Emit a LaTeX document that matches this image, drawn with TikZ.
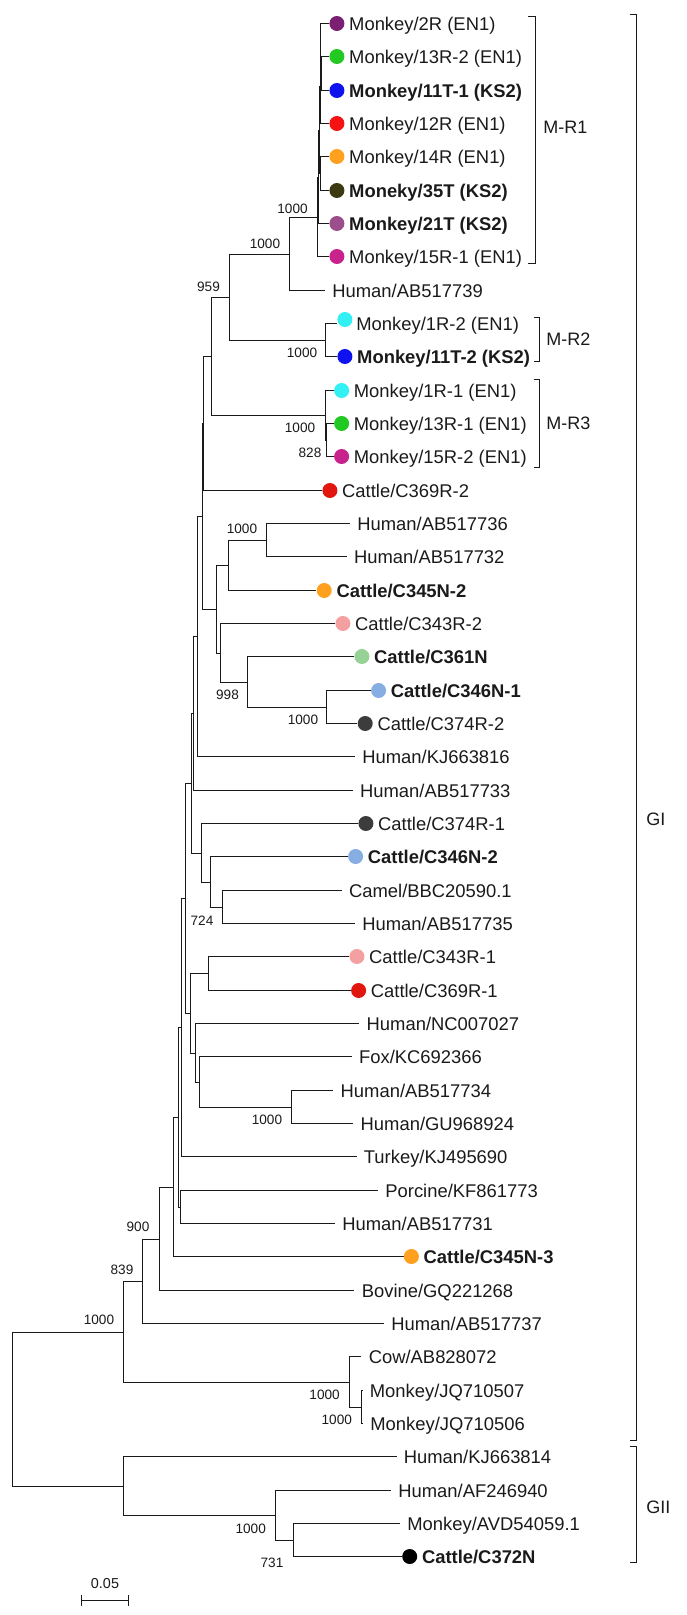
\documentclass[tikz,border=0pt]{standalone}
\usepackage{fontspec}
\setmainfont{Liberation Sans}
\usetikzlibrary{positioning,calc}
\definecolor{ink}{HTML}{1A1A1A}
\definecolor{dotplum}{HTML}{7B1F72}
\definecolor{dotgreen}{HTML}{22C922}
\definecolor{dotblue}{HTML}{0D12EE}
\definecolor{dotred}{HTML}{F51212}
\definecolor{dotorange}{HTML}{FFA01E}
\definecolor{dotolive}{HTML}{3B3A12}
\definecolor{dotmauve}{HTML}{9B4D8C}
\definecolor{dotmagenta}{HTML}{C8238C}
\definecolor{dotcyan}{HTML}{33F0F5}
\definecolor{dotcrimson}{HTML}{E0160F}
\definecolor{dotpink}{HTML}{F4A0A0}
\definecolor{dotsage}{HTML}{96D296}
\definecolor{dotsky}{HTML}{86AEE3}
\definecolor{dotslate}{HTML}{3C3C3C}
\definecolor{dotblack}{HTML}{000000}
\tikzset{
  treeline/.style={draw=ink,line width=0.7pt},
  leaf/.style={inner sep=0pt,text height=6.6pt,text depth=0pt,
               font=\fontsize{9.2}{11}\selectfont,text=ink},
  leafbold/.style={leaf,font=\fontsize{9.2}{11}\selectfont\bfseries},
  tipdot/.style={circle,fill=#1,draw=none,inner sep=0pt,minimum size=7.5pt},
  boot/.style={inner sep=0pt,font=\fontsize{6.8}{8}\selectfont,text=ink},
  grpline/.style={draw=ink,line width=0.7pt},
  grplabel/.style={inner sep=0pt,anchor=west,text height=6.6pt,text depth=0pt,
                   font=\fontsize{9}{11}\selectfont,text=ink}
}

\begin{document}
\begin{tikzpicture}[x=0.5pt,y=-0.5pt]
  \useasboundingbox (0,0) rectangle (686,1615);

  % leaf tips
  \coordinate (t0) at (329,23.5);
  \coordinate (t1) at (329,56.5);
  \coordinate (t2) at (329,90.5);
  \coordinate (t3) at (329,123.5);
  \coordinate (t4) at (329,156.5);
  \coordinate (t5) at (329,190.5);
  \coordinate (t6) at (329,223.5);
  \coordinate (t7) at (329,256.5);
  \coordinate (t8) at (325,290.5);
  \coordinate (t9) at (337,323.5);
  \coordinate (t10) at (337,356.5);
  \coordinate (t11) at (333.7,390.5);
  \coordinate (t12) at (333.7,423.5);
  \coordinate (t13) at (333.7,456.5);
  \coordinate (t14) at (322,490.5);
  \coordinate (t15) at (350,523.5);
  \coordinate (t16) at (346.7,556.5);
  \coordinate (t17) at (316.3,590.5);
  \coordinate (t18) at (335,623.5);
  \coordinate (t19) at (354,656.5);
  \coordinate (t20) at (370.7,690.5);
  \coordinate (t21) at (357.3,723.5);
  \coordinate (t22) at (355,756.5);
  \coordinate (t23) at (352.7,790.5);
  \coordinate (t24) at (358,823.5);
  \coordinate (t25) at (347.7,856.5);
  \coordinate (t26) at (341.7,890.5);
  \coordinate (t27) at (355,923.5);
  \coordinate (t28) at (349,956.5);
  \coordinate (t29) at (350.7,990.5);
  \coordinate (t30) at (359.3,1023.5);
  \coordinate (t31) at (351.7,1056.5);
  \coordinate (t32) at (333.3,1090.5);
  \coordinate (t33) at (353.3,1123.5);
  \coordinate (t34) at (356.5,1156.5);
  \coordinate (t35) at (378,1190.5);
  \coordinate (t36) at (335,1223.5);
  \coordinate (t37) at (403.5,1256.5);
  \coordinate (t38) at (354.4,1290.5);
  \coordinate (t39) at (384,1323.5);
  \coordinate (t40) at (361.4,1356.5);
  \coordinate (t41) at (362.5,1390.5);
  \coordinate (t42) at (363,1423.5);
  \coordinate (t43) at (396.5,1456.5);
  \coordinate (t44) at (391,1490.5);
  \coordinate (t45) at (400,1523.5);
  \coordinate (t46) at (401.8,1556.5);

  % internal nodes
  \coordinate (m6) at (321.5,73.5);
  \coordinate (m5) at (320.5,48.5);
  \coordinate (m4) at (320.5,86.5);
  \coordinate (m7) at (320.5,173.5);
  \coordinate (m3) at (319.5,130.5);
  \coordinate (m2) at (318.5,177.5);
  \coordinate (m1) at (317.5,217.5);
  \coordinate (na) at (289.5,254.5);
  \coordinate (mr2) at (325.5,340.5);
  \coordinate (n959) at (229.5,297.5);
  \coordinate (mr3b) at (326.5,440.5);
  \coordinate (mr3) at (325.5,415.5);
  \coordinate (nA) at (211.5,356.5);
  \coordinate (nB) at (203.5,423.5);
  \coordinate (n36) at (266.5,540.5);
  \coordinate (nE) at (228.5,565.5);
  \coordinate (nH) at (326.5,707.5);
  \coordinate (nG) at (247.5,682.5);
  \coordinate (nF) at (220.5,653.5);
  \coordinate (nD) at (216.5,609.5);
  \coordinate (nBD) at (202.5,516.5);
  \coordinate (nI) at (197.5,636.5);
  \coordinate (nJ) at (193.5,713.5);
  \coordinate (nO) at (222.5,907.5);
  \coordinate (nN) at (210.5,882.5);
  \coordinate (nL) at (201.5,853.5);
  \coordinate (nK) at (191.5,783.5);
  \coordinate (nR) at (208.5,973.5);
  \coordinate (nU) at (291.5,1107.5);
  \coordinate (nT) at (199.5,1082.5);
  \coordinate (nS) at (195.5,1053.5);
  \coordinate (nQ) at (190.5,1013.5);
  \coordinate (nM) at (185.5,898.5);
  \coordinate (nP) at (181.5,1027.5);
  \coordinate (nV) at (180.5,1207.5);
  \coordinate (nY) at (178.5,1117.5);
  \coordinate (nX) at (173.5,1187.5);
  \coordinate (n900) at (159.5,1239.5);
  \coordinate (n839) at (142.5,1281.5);
  \coordinate (nJQ) at (361.5,1407.5);
  \coordinate (nCow) at (349.5,1382.5);
  \coordinate (nGI) at (123.5,1332.5);
  \coordinate (n731) at (293.5,1540.5);
  \coordinate (nGIIs) at (275.5,1515.5);
  \coordinate (nGII) at (123.5,1486.5);
  \coordinate (root) at (12.5,1409.5);

  % branches
  \foreach \p/\c in {m6/t1,m6/t2,m5/t0,m5/m6,m4/m5,m4/t3,m7/t4,m7/t5,
      m3/m4,m3/m7,m2/m3,m2/t6,m1/m2,m1/t7,na/m1,na/t8,mr2/t9,mr2/t10,
      n959/na,n959/mr2,mr3b/t12,mr3b/t13,mr3/t11,mr3/mr3b,nA/n959,nA/mr3,
      nB/nA,nB/t14,n36/t15,n36/t16,nE/n36,nE/t17,nH/t20,nH/t21,nG/t19,nG/nH,
      nF/t18,nF/nG,nD/nE,nD/nF,nBD/nB,nBD/nD,nI/nBD,nI/t22,nJ/nI,nJ/t23,
      nO/t26,nO/t27,nN/t25,nN/nO,nL/t24,nL/nN,nK/nJ,nK/nL,nR/t28,nR/t29,
      nU/t32,nU/t33,nT/t31,nT/nU,nS/t30,nS/nT,nQ/nR,nQ/nS,nM/nK,nM/nQ,
      nP/nM,nP/t34,nV/t35,nV/t36,nY/nP,nY/nV,nX/nY,nX/t37,n900/nX,n900/t38,
      n839/n900,n839/t39,nJQ/t41,nJQ/t42,nCow/t40,nCow/nJQ,nGI/n839,nGI/nCow,
      n731/t45,n731/t46,nGIIs/t44,nGIIs/n731,nGII/t43,nGII/nGIIs,
      root/nGI,root/nGII}
    \draw[treeline] (\p) |- (\c);

  % leaves
  \node[tipdot=dotplum,right=0pt of t0] (d0) {};
  \node[leaf,right=2pt of d0] (l0) {Monkey/2R (EN1)};
  \node[tipdot=dotgreen,right=0pt of t1] (d1) {};
  \node[leaf,right=2pt of d1] (l1) {Monkey/13R-2 (EN1)};
  \node[tipdot=dotblue,right=0pt of t2] (d2) {};
  \node[leafbold,right=2pt of d2] (l2) {Monkey/11T-1 (KS2)};
  \node[tipdot=dotred,right=0pt of t3] (d3) {};
  \node[leaf,right=2pt of d3] (l3) {Monkey/12R (EN1)};
  \node[tipdot=dotorange,right=0pt of t4] (d4) {};
  \node[leaf,right=2pt of d4] (l4) {Monkey/14R (EN1)};
  \node[tipdot=dotolive,right=0pt of t5] (d5) {};
  \node[leafbold,right=2pt of d5] (l5) {Moneky/35T (KS2)};
  \node[tipdot=dotmauve,right=0pt of t6] (d6) {};
  \node[leafbold,right=2pt of d6] (l6) {Monkey/21T (KS2)};
  \node[tipdot=dotmagenta,right=0pt of t7] (d7) {};
  \node[leaf,right=2pt of d7] (l7) {Monkey/15R-1 (EN1)};
  \node[leaf,right=3.5pt of t8] (l8) {Human/AB517739};
  \node[tipdot=dotcyan,right=0pt of t9,yshift=2pt] (d9) {};
  \node[leaf,right=2pt of t9,xshift=7.5pt] (l9) {Monkey/1R-2 (EN1)};
  \node[tipdot=dotblue,right=0pt of t10] (d10) {};
  \node[leafbold,right=2pt of d10] (l10) {Monkey/11T-2 (KS2)};
  \node[tipdot=dotcyan,right=0pt of t11] (d11) {};
  \node[leaf,right=2pt of d11] (l11) {Monkey/1R-1 (EN1)};
  \node[tipdot=dotgreen,right=0pt of t12] (d12) {};
  \node[leaf,right=2pt of d12] (l12) {Monkey/13R-1 (EN1)};
  \node[tipdot=dotmagenta,right=0pt of t13] (d13) {};
  \node[leaf,right=2pt of d13] (l13) {Monkey/15R-2 (EN1)};
  \node[tipdot=dotcrimson,right=0pt of t14] (d14) {};
  \node[leaf,right=2pt of d14] (l14) {Cattle/C369R-2};
  \node[leaf,right=3.5pt of t15] (l15) {Human/AB517736};
  \node[leaf,right=3.5pt of t16] (l16) {Human/AB517732};
  \node[tipdot=dotorange,right=0pt of t17] (d17) {};
  \node[leafbold,right=2pt of d17] (l17) {Cattle/C345N-2};
  \node[tipdot=dotpink,right=0pt of t18] (d18) {};
  \node[leaf,right=2pt of d18] (l18) {Cattle/C343R-2};
  \node[tipdot=dotsage,right=0pt of t19] (d19) {};
  \node[leafbold,right=2pt of d19] (l19) {Cattle/C361N};
  \node[tipdot=dotsky,right=0pt of t20] (d20) {};
  \node[leafbold,right=2pt of d20] (l20) {Cattle/C346N-1};
  \node[tipdot=dotslate,right=0pt of t21] (d21) {};
  \node[leaf,right=2pt of d21] (l21) {Cattle/C374R-2};
  \node[leaf,right=3.5pt of t22] (l22) {Human/KJ663816};
  \node[leaf,right=3.5pt of t23] (l23) {Human/AB517733};
  \node[tipdot=dotslate,right=0pt of t24] (d24) {};
  \node[leaf,right=2pt of d24] (l24) {Cattle/C374R-1};
  \node[tipdot=dotsky,right=0pt of t25] (d25) {};
  \node[leafbold,right=2pt of d25] (l25) {Cattle/C346N-2};
  \node[leaf,right=3.5pt of t26] (l26) {Camel/BBC20590.1};
  \node[leaf,right=3.5pt of t27] (l27) {Human/AB517735};
  \node[tipdot=dotpink,right=0pt of t28] (d28) {};
  \node[leaf,right=2pt of d28] (l28) {Cattle/C343R-1};
  \node[tipdot=dotcrimson,right=0pt of t29] (d29) {};
  \node[leaf,right=2pt of d29] (l29) {Cattle/C369R-1};
  \node[leaf,right=3.5pt of t30] (l30) {Human/NC007027};
  \node[leaf,right=3.5pt of t31] (l31) {Fox/KC692366};
  \node[leaf,right=3.5pt of t32] (l32) {Human/AB517734};
  \node[leaf,right=3.5pt of t33] (l33) {Human/GU968924};
  \node[leaf,right=3.5pt of t34] (l34) {Turkey/KJ495690};
  \node[leaf,right=3.5pt of t35] (l35) {Porcine/KF861773};
  \node[leaf,right=3.5pt of t36] (l36) {Human/AB517731};
  \node[tipdot=dotorange,right=0pt of t37] (d37) {};
  \node[leafbold,right=2pt of d37] (l37) {Cattle/C345N-3};
  \node[leaf,right=3.5pt of t38] (l38) {Bovine/GQ221268};
  \node[leaf,right=3.5pt of t39] (l39) {Human/AB517737};
  \node[leaf,right=3.5pt of t40] (l40) {Cow/AB828072};
  \node[leaf,right=3.5pt of t41] (l41) {Monkey/JQ710507};
  \node[leaf,right=3.5pt of t42] (l42) {Monkey/JQ710506};
  \node[leaf,right=3.5pt of t43] (l43) {Human/KJ663814};
  \node[leaf,right=3.5pt of t44] (l44) {Human/AF246940};
  \node[leaf,right=3.5pt of t45] (l45) {Monkey/AVD54059.1};
  \node[tipdot=dotblack,right=0pt of t46] (d46) {};
  \node[leafbold,right=2pt of d46] (l46) {Cattle/C372N};

  % bootstrap values
  \node[boot] (b1) at (292.5,209) {1000};
  \node[boot] (b2) at (265,244) {1000};
  \node[boot] (b3) at (208.5,287) {959};
  \node[boot] (b4) at (302,353) {1000};
  \node[boot] (b5) at (300,428) {1000};
  \node[boot] (b6) at (310,452.7) {828};
  \node[boot] (b7) at (242,529) {1000};
  \node[boot] (b8) at (227.5,695) {998};
  \node[boot] (b9) at (303,720) {1000};
  \node[boot] (b10) at (202,920.7) {724};
  \node[boot] (b11) at (267,1120) {1000};
  \node[boot] (b12) at (138,1227) {900};
  \node[boot] (b13) at (122,1270) {839};
  \node[boot] (b14) at (99,1320) {1000};
  \node[boot] (b15) at (324.6,1395) {1000};
  \node[boot] (b16) at (336.8,1420) {1000};
  \node[boot] (b17) at (250.7,1528.3) {1000};
  \node[boot] (b18) at (272,1563) {731};

  % group brackets
  \coordinate (r1a) at (535.5,16.5);
  \coordinate (r1b) at (535.5,263.5);
  \draw[grpline] ([xshift=-4pt]r1a) -- (r1a) -- (r1b) -- ([xshift=-4pt]r1b);
  \node[grplabel] (g1) at (543,127) {M-R1};
  \coordinate (r2a) at (539.5,317.5);
  \coordinate (r2b) at (539.5,361.5);
  \draw[grpline] ([xshift=-3pt]r2a) -- (r2a) -- (r2b) -- ([xshift=-3pt]r2b);
  \node[grplabel] (g2) at (546,339) {M-R2};
  \coordinate (r3a) at (539.5,379.5);
  \coordinate (r3b) at (539.5,467.5);
  \draw[grpline] ([xshift=-3pt]r3a) -- (r3a) -- (r3b) -- ([xshift=-3pt]r3b);
  \node[grplabel] (g3) at (546,423) {M-R3};
  \coordinate (gIa) at (636.5,14.5);
  \coordinate (gIb) at (636.5,1440.5);
  \draw[grpline] ([xshift=-3.5pt]gIa) -- (gIa) -- (gIb) -- ([xshift=-3.5pt]gIb);
  \node[grplabel] (g4) at (646,819) {GI};
  \coordinate (gIIa) at (636.5,1446.5);
  \coordinate (gIIb) at (636.5,1562.5);
  \draw[grpline] ([xshift=-3.5pt]gIIa) -- (gIIa) -- (gIIb) -- ([xshift=-3.5pt]gIIb);
  \node[grplabel] (g5) at (646,1506.7) {GII};

  % scale bar
  \coordinate (sbl) at (81.5,1600.5);
  \coordinate (sbr) at (128.5,1600.5);
  \draw[treeline] (sbl) -- (sbr);
  \draw[treeline] ([yshift=2.8pt]sbl) -- ([yshift=-2.8pt]sbl);
  \draw[treeline] ([yshift=2.8pt]sbr) -- ([yshift=-2.8pt]sbr);
  \node[boot,font=\fontsize{7.2}{9}\selectfont] (sbtext) at (105,1584) {0.05};
\end{tikzpicture}
\end{document}
